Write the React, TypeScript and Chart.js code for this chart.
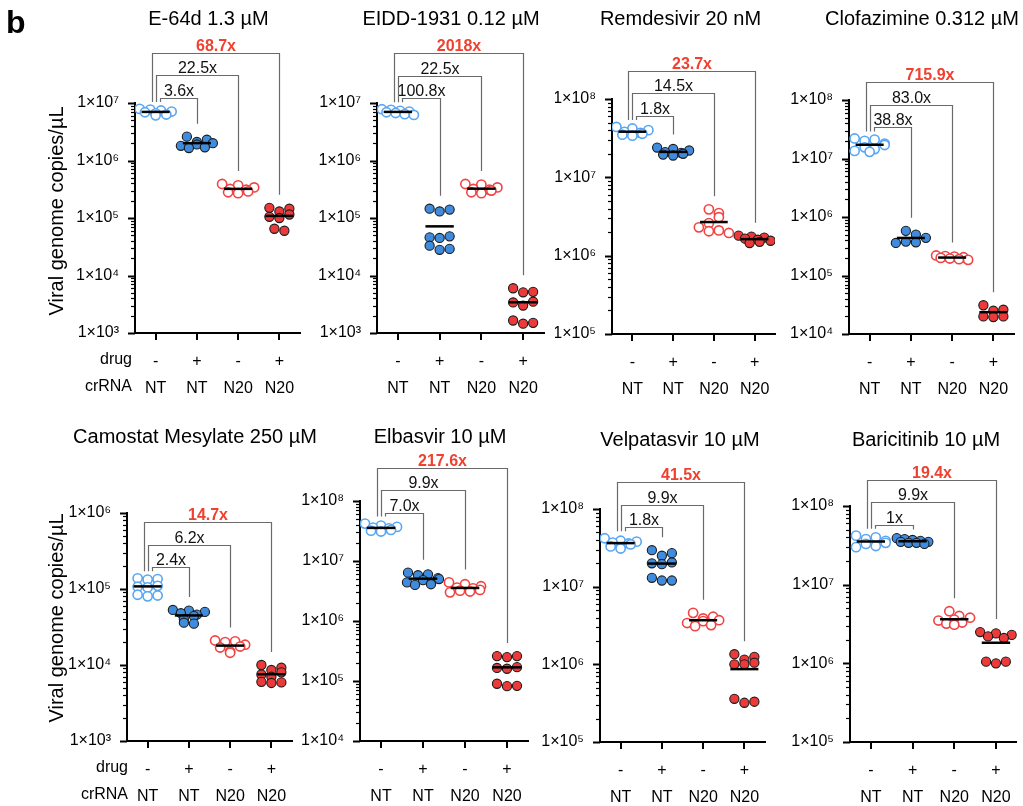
import React, { useEffect, useRef } from 'react';
import { Chart, registerables } from 'chart.js';

Chart.register(...registerables);

const FONT = '"Liberation Sans", Arial, Helvetica, sans-serif';

// ---------- data ----------
const drugRow = ['-', '+', '-', '+'];
const crRNARow = ['NT', 'NT', 'N20', 'N20'];

const panelTitles = [
  'E-64d 1.3 µM',
  'EIDD-1931 0.12 µM',
  'Remdesivir 20 nM',
  'Clofazimine 0.312 µM',
  'Camostat Mesylate 250 µM',
  'Elbasvir 10 µM',
  'Velpatasvir 10 µM',
  'Baricitinib 10 µM',
];

const yMinExp = [3, 3, 5, 4, 3, 4, 5, 5];
const yMaxExp = [7, 7, 8, 8, 6, 8, 8, 8];

// groups: [NT -, NT +, N20 -, N20 +]
const e64d = [
  [7.9e6, 7.7e6, 7.4e6, 7.1e6, 6.9e6, 6.6e6, 6.3e6, 6.1e6],
  [2.6e6, 2.3e6, 2.1e6, 2.0e6, 1.9e6, 1.8e6, 1.7e6, 1.65e6],
  [3.9e5, 3.7e5, 3.4e5, 3.2e5, 3.1e5, 2.9e5, 2.8e5, 2.7e5],
  [1.5e5, 1.45e5, 1.3e5, 1.15e5, 1.05e5, 1.0e5, 6.5e4, 6.0e4],
];
const eidd = [
  [7.8e6, 7.6e6, 7.3e6, 7.1e6, 6.9e6, 6.7e6, 6.4e6, 6.2e6],
  [1.45e5, 1.4e5, 1.3e5, 4.8e4, 4.6e4, 4.5e4, 3.3e4, 2.9e4, 2.8e4],
  [3.9e5, 3.8e5, 3.4e5, 3.2e5, 3.1e5, 3.0e5, 2.8e5, 2.7e5],
  [6.0e3, 5.2e3, 5.1e3, 3.5e3, 3.4e3, 3.0e3, 1.65e3, 1.5e3, 1.45e3],
];
const remdesivir = [
  [4.4e7, 4.2e7, 4.0e7, 3.8e7, 3.7e7, 3.6e7, 3.5e7, 3.4e7],
  [2.4e7, 2.3e7, 2.2e7, 2.1e7, 2.05e7, 2.0e7, 1.95e7, 1.9e7],
  [3.9e6, 3.5e6, 3.1e6, 2.6e6, 2.3e6, 2.1e6, 2.05e6, 1.95e6],
  [1.8e6, 1.75e6, 1.7e6, 1.65e6, 1.6e6, 1.55e6, 1.5e6, 1.45e6],
];
const clofazimine = [
  [2.2e7, 2.1e7, 2.0e7, 1.8e7, 1.7e7, 1.55e7, 1.45e7, 1.35e7, 1.3e7],
  [5.8e5, 5.0e5, 4.4e5, 3.8e5, 3.7e5, 3.6e5],
  [2.2e5, 2.15e5, 2.1e5, 2.05e5, 2.0e5, 1.95e5, 1.9e5, 1.85e5],
  [3.1e4, 2.6e4, 2.5e4, 2.0e4, 2.0e4, 1.95e4],
];
const camostat = [
  [1.38e5, 1.35e5, 1.33e5, 1.1e5, 1.07e5, 1.05e5, 8.4e4, 8.2e4, 8.0e4],
  [5.3e4, 5.2e4, 5.0e4, 4.8e4, 4.6e4, 4.4e4, 4.0e4, 3.6e4, 3.5e4],
  [2.1e4, 2.05e4, 2.0e4, 1.85e4, 1.75e4, 1.7e4, 1.5e4, 1.45e4],
  [1.0e4, 9.2e3, 8.6e3, 8.0e3, 7.5e3, 7.0e3, 6.0e3, 5.8e3, 5.9e3],
];
const elbasvir = [
  [4.2e7, 3.9e7, 3.7e7, 3.6e7, 3.5e7, 3.3e7, 3.2e7, 3.1e7],
  [6.4e6, 6.0e6, 5.8e6, 5.2e6, 5.0e6, 4.8e6, 4.4e6, 4.1e6, 4.0e6],
  [4.4e6, 4.1e6, 3.8e6, 3.6e6, 3.5e6, 3.3e6, 3.2e6, 3.1e6, 3.0e6],
  [2.6e5, 2.6e5, 2.5e5, 1.7e5, 1.65e5, 1.6e5, 9.0e4, 8.3e4, 8.2e4],
];
const velpatasvir = [
  [4.2e7, 3.9e7, 3.8e7, 3.7e7, 3.6e7, 3.5e7, 3.3e7, 3.1e7],
  [2.95e7, 2.7e7, 2.5e7, 2.05e7, 2.0e7, 1.95e7, 1.3e7, 1.2e7, 1.2e7],
  [4.6e6, 4.1e6, 3.9e6, 3.7e6, 3.6e6, 3.4e6, 3.2e6, 3.1e6],
  [1.35e6, 1.25e6, 1.15e6, 1.05e6, 1.0e6, 1.0e6, 3.6e5, 3.3e5, 3.2e5],
];
const baricitinib = [
  [4.2e7, 4.0e7, 3.8e7, 3.6e7, 3.4e7, 3.3e7, 3.1e7, 3.0e7],
  [3.9e7, 3.8e7, 3.7e7, 3.6e7, 3.5e7, 3.5e7, 3.4e7, 3.4e7, 3.3e7],
  [4.6e6, 4.0e6, 3.8e6, 3.6e6, 3.5e6, 3.3e6, 3.2e6, 3.1e6],
  [2.5e6, 2.4e6, 2.3e6, 2.2e6, 2.1e6, 1.05e6, 1.05e6, 1.0e6],
];

const panelData = [e64d, eidd, remdesivir, clofazimine, camostat, elbasvir, velpatasvir, baricitinib];

// fold-change labels: [vs NT+, vs N20-, vs N20+]
const panelFolds = [
  ['3.6x', '22.5x', '68.7x'],
  ['100.8x', '22.5x', '2018x'],
  ['1.8x', '14.5x', '23.7x'],
  ['38.8x', '83.0x', '715.9x'],
  ['2.4x', '6.2x', '14.7x'],
  ['7.0x', '9.9x', '217.6x'],
  ['1.8x', '9.9x', '41.5x'],
  ['1x', '9.9x', '19.4x'],
];

// ---------- layout (page pixels) ----------
type Lay = {
  cx: number; cy: number; cw: number; ch: number;
  L: number; R: number; T: number; B: number;
  titleX: number; titleY: number;
  yTitleY?: number; rowHeadX?: number; letter?: boolean;
};
const LAYOUT: Lay[] = [
  { cx: 0, cy: 0, cw: 310, ch: 400, L: 135, R: 300, T: 103, B: 333, titleX: 208.5, titleY: 19, yTitleY: 211, rowHeadX: 132, letter: true },
  { cx: 310, cy: 0, cw: 245, ch: 400, L: 377, R: 544, T: 103, B: 333, titleX: 451, titleY: 19 },
  { cx: 555, cy: 0, cw: 235, ch: 400, L: 612, R: 775, T: 99, B: 334, titleX: 680.5, titleY: 19 },
  { cx: 790, cy: 0, cw: 233, ch: 400, L: 849, R: 1014, T: 100, B: 334, titleX: 922, titleY: 19 },
  { cx: 0, cy: 400, cw: 330, ch: 406, L: 127, R: 292, T: 513, B: 741, titleX: 195, titleY: 437, yTitleY: 618, rowHeadX: 128 },
  { cx: 300, cy: 400, cw: 240, ch: 406, L: 360, R: 528, T: 501, B: 741, titleX: 440, titleY: 437 },
  { cx: 540, cy: 400, cw: 240, ch: 406, L: 600, R: 765, T: 509, B: 742, titleX: 680, titleY: 440 },
  { cx: 780, cy: 400, cw: 243, ch: 406, L: 850, R: 1019, T: 506, B: 742, titleX: 926, titleY: 440 },
];

const GROUP_STYLE = [
  { bg: '#ffffff', border: '#58A6F4', bw: 1.6 },
  { bg: '#3F8BDD', border: '#1b1b1b', bw: 1.1 },
  { bg: '#ffffff', border: '#F24343', bw: 1.6 },
  { bg: '#EC3A3A', border: '#1b1b1b', bw: 1.1 },
];
const RED = '#F0402F';
const SUP = ['⁰', '¹', '²', '³', '⁴', '⁵', '⁶', '⁷', '⁸', '⁹'];

function isPow10(v: number) {
  const l = Math.log10(v);
  return Math.abs(l - Math.round(l)) < 1e-9;
}

function mean(a: number[]) {
  return a.reduce((s, v) => s + v, 0) / a.length;
}

// Prism-like row layout: points with similar y share a row, spread symmetrically,
// with ranks interleaved across slots so rows do not read as slanted stripes.
function swarm(values: number[], pxPerDecade: number, pxPerUnit: number) {
  const ROW_TOL = 6;
  const STEP = 10;
  const HALF_MAX = 16;
  const pts = values.map((v, i) => ({ i, y: -Math.log10(v) * pxPerDecade }));
  const order = [...pts].sort((a, b) => a.y - b.y);
  const rows: { i: number; y: number }[][] = [];
  for (const p of order) {
    const cur = rows[rows.length - 1];
    if (cur && p.y - cur[0].y <= ROW_TOL) cur.push(p);
    else rows.push([p]);
  }
  const offs = new Array(values.length).fill(0);
  rows.forEach((row, ri) => {
    const n = row.length;
    const s = n > 1 ? Math.min(STEP, (2 * HALF_MAX) / (n - 1)) : 0;
    const half = Math.ceil(n / 2);
    for (let k = 0; k < n; k++) {
      const r = k % 2 === 0 ? k / 2 : half + (k - 1) / 2;
      const slot = ri % 2 === 0 ? k : n - 1 - k;
      offs[row[r].i] = (slot - (n - 1) / 2) * s;
    }
  });
  return offs.map((o) => o / pxPerUnit);
}

function makePlugin(idx: number) {
  const lay = LAYOUT[idx];
  const groups = panelData[idx];
  const folds = panelFolds[idx];
  return {
    id: 'panelDecor' + idx,
    afterDraw(chart: any) {
      const ctx: CanvasRenderingContext2D = chart.ctx;
      const xs = chart.scales.x;
      const ys = chart.scales.y;
      const area = chart.chartArea;
      ctx.save();
      ctx.strokeStyle = '#000';
      ctx.lineCap = 'butt';
      // y tick marks
      ys.ticks.forEach((t: any) => {
        const py = Math.round(ys.getPixelForValue(t.value)) + 0.5;
        const major = isPow10(t.value);
        ctx.lineWidth = major ? 2 : 1.2;
        const len = major ? 7 : 4;
        ctx.beginPath();
        ctx.moveTo(area.left - len, py);
        ctx.lineTo(area.left, py);
        ctx.stroke();
      });
      // x tick marks
      ctx.lineWidth = 2;
      [0, 1, 2, 3].forEach((i) => {
        const px = Math.round(xs.getPixelForValue(i));
        ctx.beginPath();
        ctx.moveTo(px, area.bottom);
        ctx.lineTo(px, area.bottom + 7);
        ctx.stroke();
      });

      // title
      ctx.fillStyle = '#000';
      ctx.font = `20px ${FONT}`;
      ctx.textAlign = 'center';
      ctx.textBaseline = 'middle';
      ctx.fillText(panelTitles[idx], lay.titleX - lay.cx, lay.titleY - lay.cy);

      // brackets
      const tops = groups.map((vals) => ys.getPixelForValue(Math.max(...vals)));
      const innerY = Math.min(tops[0], tops[1]) - 11;
      const x0 = xs.getPixelForValue(0);
      const leftShift = [4, 0, -4];
      for (let b = 0; b < 3; b++) {
        const lineY = Math.round(innerY - 22.5 * b) + 0.5;
        const xl = Math.round(x0 + leftShift[b]) + 0.5;
        const xr = Math.round(xs.getPixelForValue(b + 1)) + 0.5;
        const leftEnd = Math.max(tops[0] - 7, lineY + 3);
        const rightEnd = Math.max(tops[b + 1] - 13, lineY + 4);
        ctx.strokeStyle = '#6a6a6a';
        ctx.lineWidth = 1.2;
        ctx.beginPath();
        ctx.moveTo(xl, leftEnd);
        ctx.lineTo(xl, lineY);
        ctx.lineTo(xr, lineY);
        ctx.lineTo(xr, rightEnd);
        ctx.stroke();
        ctx.textBaseline = 'alphabetic';
        ctx.textAlign = 'center';
        if (b === 2) {
          ctx.fillStyle = RED;
          ctx.font = `bold 16px ${FONT}`;
        } else {
          ctx.fillStyle = '#111';
          ctx.font = `16px ${FONT}`;
        }
        ctx.fillText(folds[b], (xl + xr) / 2, lineY - 2.5);
      }

      // row headers
      if (lay.rowHeadX !== undefined) {
        ctx.fillStyle = '#000';
        ctx.font = `16px ${FONT}`;
        ctx.textAlign = 'right';
        ctx.textBaseline = 'middle';
        ctx.fillText('drug', lay.rowHeadX - lay.cx, area.bottom + 27);
        ctx.fillText('crRNA', lay.rowHeadX - lay.cx, area.bottom + 54);
      }
      // y-axis title
      if (lay.yTitleY !== undefined) {
        ctx.save();
        ctx.translate(57 - lay.cx, lay.yTitleY - lay.cy);
        ctx.rotate(-Math.PI / 2);
        ctx.fillStyle = '#000';
        ctx.font = `20px ${FONT}`;
        ctx.textAlign = 'center';
        ctx.textBaseline = 'middle';
        ctx.fillText('Viral genome copies/µL', 0, 0);
        ctx.restore();
      }
      // panel letter
      if (lay.letter) {
        ctx.fillStyle = '#000';
        ctx.font = `bold 32px ${FONT}`;
        ctx.textAlign = 'left';
        ctx.textBaseline = 'alphabetic';
        ctx.fillText('b', 6 - lay.cx, 33 - lay.cy);
      }
      ctx.restore();
    },
  };
}

function Panel({ idx }: { idx: number }) {
  const ref = useRef<HTMLCanvasElement | null>(null);
  const lay = LAYOUT[idx];
  useEffect(() => {
    if (!ref.current) return;
    const groups = panelData[idx];
    const minE = yMinExp[idx];
    const maxE = yMaxExp[idx];
    const pxPerDecade = (lay.B - lay.T) / (maxE - minE);
    const pxPerUnit = (lay.R - lay.L) / 4;

    const scatterSets = groups.map((vals, g) => {
      const offs = swarm(vals, pxPerDecade, pxPerUnit);
      const st = GROUP_STYLE[g];
      return {
        type: 'scatter' as const,
        data: vals.map((v, k) => ({ x: g + offs[k], y: v })),
        pointRadius: 4.6,
        pointBackgroundColor: st.bg,
        pointBorderColor: st.border,
        pointBorderWidth: st.bw,
        order: 1,
      };
    });
    const meanSets = groups.map((vals, g) => {
      const m = mean(vals);
      return {
        type: 'line' as const,
        data: [
          { x: g - 0.34, y: m },
          { x: g + 0.34, y: m },
        ],
        borderColor: '#000',
        borderWidth: 2.5,
        pointRadius: 0,
        order: 0,
      };
    });

    const chart = new Chart(ref.current, {
      type: 'scatter',
      data: { datasets: [...meanSets, ...scatterSets] as any },
      options: {
        animation: false,
        responsive: false,
        maintainAspectRatio: false,
        devicePixelRatio: 1,
        events: [],
        layout: {
          padding: { left: 0, top: lay.T - lay.cy, right: lay.cx + lay.cw - lay.R, bottom: 0 },
        },
        plugins: { legend: { display: false }, tooltip: { enabled: false }, title: { display: false } },
        scales: {
          x: {
            type: 'linear',
            min: -0.5,
            max: 3.5,
            afterBuildTicks: (s: any) => {
              s.ticks = [0, 1, 2, 3].map((v) => ({ value: v }));
            },
            afterFit: (s: any) => {
              s.height = lay.cy + lay.ch - lay.B;
            },
            grid: { display: false },
            border: { display: true, color: '#000', width: 2 },
            ticks: {
              callback: (v: any) => [drugRow[v], crRNARow[v]],
              font: { family: FONT, size: 16, lineHeight: 1.6875 },
              color: '#000',
              padding: 7.5,
              maxRotation: 0,
              autoSkip: false,
            },
          },
          y: {
            type: 'logarithmic',
            min: Math.pow(10, minE),
            max: Math.pow(10, maxE),
            afterBuildTicks: (s: any) => {
              const t: any[] = [];
              for (let e = minE; e < maxE; e++) {
                for (let k = 1; k <= 9; k++) t.push({ value: k * Math.pow(10, e), major: k === 1 });
              }
              t.push({ value: Math.pow(10, maxE), major: true });
              s.ticks = t;
            },
            afterFit: (s: any) => {
              s.width = lay.L - lay.cx;
            },
            grid: { display: false },
            border: { display: true, color: '#000', width: 2 },
            ticks: {
              autoSkip: false,
              color: '#000',
              padding: 8,
              font: { family: FONT, size: 16 },
              callback: (v: any) => {
                const n = Number(v);
                if (!isPow10(n)) return '';
                const e = Math.round(Math.log10(n));
                return '1×10' + String(e).split('').map((d) => SUP[Number(d)]).join('');
              },
            },
          },
        },
      },
      plugins: [makePlugin(idx)],
    });
    return () => chart.destroy();
  }, [idx]);

  return (
    <canvas
      ref={ref}
      width={lay.cw}
      height={lay.ch}
      style={{ position: 'absolute', left: lay.cx, top: lay.cy, width: lay.cw, height: lay.ch }}
    />
  );
}

export default function App() {
  return (
    <div style={{ position: 'absolute', left: 0, top: 0, width: 1023, height: 806, background: '#fff', overflow: 'hidden' }}>
      {LAYOUT.map((_, i) => (
        <Panel key={i} idx={i} />
      ))}
    </div>
  );
}
